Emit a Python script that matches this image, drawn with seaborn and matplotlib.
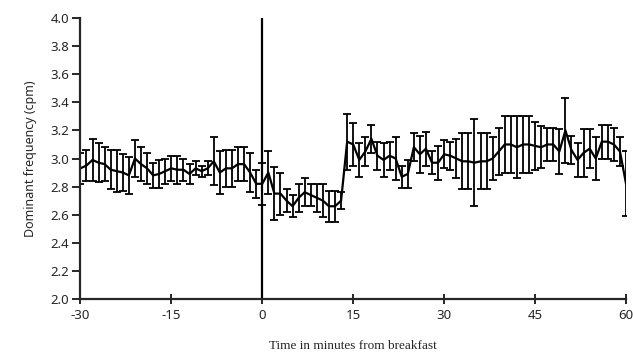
import numpy as np
import pandas as pd
import seaborn as sns
import matplotlib
matplotlib.use("Agg")
import matplotlib.pyplot as plt

# %% data (one reading per minute)

minutes = list(range(-30, 61))

mean_cpm = [2.93, 2.95, 2.99, 2.97, 2.96, 2.92, 2.91, 2.90, 2.88, 3.00,
            2.96, 2.93, 2.88, 2.89, 2.91, 2.93, 2.92, 2.92, 2.89, 2.93,
            2.91, 2.93, 2.98, 2.90, 2.93, 2.93, 2.96, 2.96, 2.90, 2.82,
            2.82, 2.90, 2.75, 2.75, 2.70, 2.66, 2.72, 2.76, 2.74, 2.72,
            2.70, 2.66, 2.66, 2.70, 3.12, 3.10, 2.99, 3.05, 3.14, 3.02,
            2.99, 3.02, 3.00, 2.87, 2.89, 3.08, 3.03, 3.07, 2.97, 2.97,
            3.03, 3.02, 3.00, 2.98, 2.98, 2.97, 2.98, 2.98, 3.00, 3.05,
            3.10, 3.10, 3.08, 3.10, 3.10, 3.09, 3.08, 3.10, 3.10, 3.05,
            3.20, 3.06, 2.99, 3.04, 3.07, 3.00, 3.12, 3.12, 3.10, 3.05,
            2.82]

err_cpm = [0.11, 0.11, 0.15, 0.14, 0.12, 0.14, 0.15, 0.13, 0.13, 0.13,
           0.12, 0.11, 0.09, 0.10, 0.09, 0.09, 0.10, 0.08, 0.07, 0.05,
           0.04, 0.05, 0.17, 0.15, 0.13, 0.13, 0.12, 0.12, 0.14, 0.10,
           0.15, 0.15, 0.19, 0.15, 0.08, 0.08, 0.10, 0.10, 0.08, 0.10,
           0.12, 0.11, 0.11, 0.06, 0.20, 0.15, 0.12, 0.10, 0.10, 0.10,
           0.12, 0.10, 0.15, 0.08, 0.10, 0.10, 0.13, 0.12, 0.08, 0.12,
           0.10, 0.10, 0.14, 0.20, 0.20, 0.31, 0.20, 0.20, 0.15, 0.17,
           0.20, 0.20, 0.22, 0.20, 0.20, 0.17, 0.15, 0.12, 0.12, 0.16,
           0.23, 0.10, 0.12, 0.17, 0.14, 0.15, 0.12, 0.12, 0.12, 0.10,
           0.23]

x_ticks = [-30, -15, 0, 15, 30, 45, 60]
y_ticks = [2.0, 2.2, 2.4, 2.6, 2.8, 3.0, 3.2, 3.4, 3.6, 3.8, 4.0]

df = pd.DataFrame({"minute": minutes, "cpm": mean_cpm, "err": err_cpm})

# %% plot

sns.set_style("ticks")
plt.rcParams["font.family"] = ["Noto Sans", "DejaVu Sans"]
plt.rcParams["axes.unicode_minus"] = False

fig = plt.figure(figsize=(6.33, 3.55), dpi=100)
ax = fig.add_axes([0.127, 0.158, 0.862, 0.791])

ax.errorbar(df["minute"], df["cpm"], yerr=df["err"], fmt="none",
            ecolor="black", elinewidth=1.3, capsize=3, capthick=1.3)

sns.lineplot(x="minute", y="cpm", data=df, color="black",
             linewidth=1.6, ax=ax)

ax.axvline(0, ymin=0, ymax=1, color="black", linewidth=1.6)

ax.set_xlim(-30, 60)
ax.set_ylim(2.0, 4.0)
ax.set_xticks(x_ticks)
ax.set_yticks(y_ticks)
ax.set_yticklabels([f"{v:.1f}" for v in y_ticks])

sns.despine(ax=ax)
for side in ["left", "bottom"]:
    ax.spines[side].set_linewidth(1.6)

ax.tick_params(axis="y", direction="out", length=6, width=1.4,
               labelsize=9.5, pad=2)
ax.tick_params(axis="x", direction="inout", length=7, width=1.4,
               labelsize=9.5, pad=4)
for lab in ax.get_xticklabels() + ax.get_yticklabels():
    lab.set_fontweight("medium")

ax.set_ylabel("Dominant frequency (cpm)", fontsize=9, labelpad=10)
ax.set_xlabel("Time in minutes from breakfast", fontsize=9.5,
              family=["Liberation Serif"], labelpad=13)

fig.savefig("out.png", dpi=100)
